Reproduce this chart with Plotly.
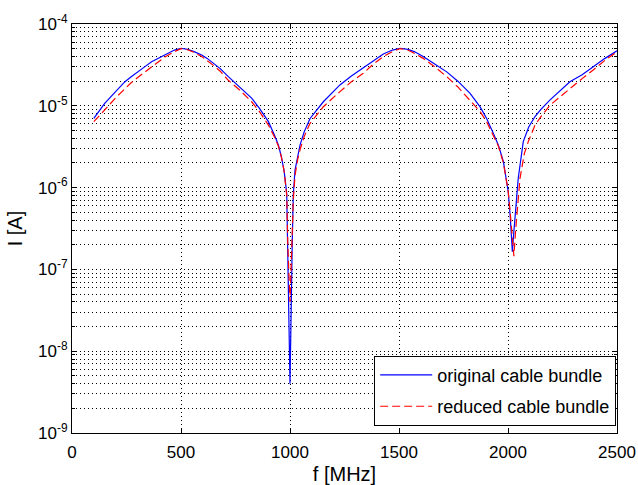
import plotly.graph_objects as go

# Frequency [MHz] and current [A] of the original cable bundle
f_orig = [100, 125, 150, 200, 243, 270, 300, 330, 365, 400, 430, 470, 500, 530, 560,
          595, 620, 650, 680, 717, 770, 824, 860,
          901, 930, 947, 960, 973, 985, 990, 1000, 1010, 1015, 1023, 1035, 1046,
          1065, 1092, 1153, 1229, 1280,
          1336, 1380, 1428, 1470, 1505, 1540, 1570, 1611, 1660, 1719, 1770, 1826,
          1872, 1902, 1933, 1956, 1979,
          2001, 2010, 2017, 2020, 2025, 2032, 2047, 2070, 2095, 2124, 2150, 2193,
          2240, 2284, 2340, 2391, 2445, 2500]
i_orig = [7.0e-6, 8.8e-6, 1.07e-5, 1.49e-5, 1.97e-5, 2.25e-5, 2.6e-5, 2.95e-5, 3.46e-5,
          3.85e-5, 4.25e-5, 4.8e-5, 5.05e-5, 4.9e-5, 4.6e-5,
          4.18e-5, 3.8e-5, 3.3e-5, 2.85e-5, 2.27e-5, 1.7e-5, 1.24e-5, 9.3e-6,
          6.4e-6, 4.3e-6, 3.3e-6, 2.4e-6, 1.6e-6, 8.5e-7, 1.9e-7, 4.0e-9, 1.9e-7,
          8.0e-7, 1.64e-6, 2.5e-6, 3.3e-6,
          4.8e-6, 7.0e-6, 1.12e-5, 1.8e-5, 2.3e-5,
          2.87e-5, 3.5e-5, 4.3e-5, 4.8e-5, 5.05e-5, 4.9e-5, 4.6e-5, 4.0e-5, 3.3e-5,
          2.6e-5, 2.0e-5, 1.42e-5,
          9.7e-6, 7.0e-6, 4.6e-6, 3.3e-6, 2.07e-6,
          8.9e-7, 4.5e-7, 2.6e-7, 1.65e-7, 2.5e-7, 4.2e-7, 1.3e-6, 3.65e-6, 5.5e-6,
          7.4e-6, 9.0e-6, 1.18e-5,
          1.55e-5, 1.97e-5, 2.4e-5, 3.0e-5, 3.8e-5, 4.7e-5]

# Frequency [MHz] and current [A] of the reduced cable bundle
f_red = [100, 125, 150, 200, 243, 270, 300, 330, 366, 400, 430, 470, 500, 530, 560,
         595, 620, 650, 680, 717, 770, 824, 860,
         901, 930, 947, 960, 973, 985, 990, 1000, 1010, 1015, 1023, 1035, 1046,
         1065, 1092, 1153, 1229, 1280,
         1336, 1380, 1428, 1470, 1505, 1540, 1570, 1611, 1660, 1719, 1770, 1826,
         1872, 1902, 1933, 1956, 1979,
         2001, 2010, 2020, 2027, 2035, 2045, 2055, 2075, 2093, 2124, 2150, 2193,
         2240, 2284, 2340, 2391, 2445, 2500]
i_red = [6.4e-6, 7.5e-6, 8.9e-6, 1.25e-5, 1.64e-5, 1.9e-5, 2.2e-5, 2.55e-5, 3.0e-5,
         3.5e-5, 4.0e-5, 4.6e-5, 5.0e-5, 4.85e-5, 4.5e-5,
         4.0e-5, 3.6e-5, 3.1e-5, 2.65e-5, 2.05e-5, 1.55e-5, 1.12e-5, 8.5e-6,
         5.8e-6, 4.1e-6, 3.2e-6, 2.4e-6, 1.6e-6, 8.0e-7, 2.0e-7, 4.0e-8, 2.0e-7,
         7.0e-7, 1.4e-6, 2.2e-6, 2.9e-6,
         4.2e-6, 6.1e-6, 9.75e-6, 1.49e-5, 1.95e-5,
         2.5e-5, 3.2e-5, 4.0e-5, 4.6e-5, 5.0e-5, 4.8e-5, 4.4e-5, 3.8e-5, 3.05e-5,
         2.27e-5, 1.7e-5, 1.18e-5,
         8.5e-6, 6.4e-6, 4.2e-6, 3.2e-6, 2.0e-6,
         9.0e-7, 5.0e-7, 2.3e-7, 1.45e-7, 3.0e-7, 6.5e-7, 1.3e-6, 2.6e-6, 3.65e-6,
         5.8e-6, 7.3e-6, 1.02e-5,
         1.3e-5, 1.64e-5, 2.15e-5, 2.74e-5, 3.6e-5, 4.55e-5]

x_ticks = [0, 500, 1000, 1500, 2000, 2500]
y_exponents = [-9, -8, -7, -6, -5, -4]

FONT = "Liberation Sans, Arial, Helvetica, sans-serif"
GRID_DASH = "1px,3px"

fig = go.Figure()
fig.add_trace(go.Scatter(
    x=f_orig, y=i_orig, mode="lines", name="original cable bundle",
    legendgroup="orig",
    line=dict(color="#0000ff", width=1.2),
))
fig.add_trace(go.Scatter(
    x=f_red, y=i_red, mode="lines", name="reduced cable bundle",
    legendgroup="red",
    line=dict(color="#ff0000", width=1.2, dash="8px,4px"),
))

minor_vals = [k * 10.0 ** e for e in y_exponents[:-1] for k in range(2, 10)]

fig.update_layout(
    width=638, height=485,
    margin=dict(l=72, r=21, t=24, b=52),
    paper_bgcolor="white", plot_bgcolor="white",
    font=dict(family=FONT, size=17, color="black"),
    showlegend=True,
    legend=dict(
        x=0.9985, xanchor="right", y=0.018, yanchor="bottom",
        bgcolor="white", bordercolor="black", borderwidth=1,
        font=dict(size=18), traceorder="grouped", tracegroupgap=5,
        itemwidth=52,
    ),
    xaxis=dict(
        range=[0, 2500], tickvals=x_ticks, ticktext=[str(v) for v in x_ticks],
        showline=True, linecolor="black", linewidth=1, mirror="ticks",
        ticks="inside", ticklen=5, tickcolor="black",
        showgrid=True, gridcolor="black", gridwidth=1, griddash=GRID_DASH,
        zeroline=False, automargin=False, ticklabelstandoff=4,
        title=dict(text="f [MHz]", standoff=15),
    ),
    yaxis=dict(
        type="log", range=[-9, -4],
        tickvals=[10.0 ** e for e in y_exponents],
        ticktext=[f"10<sup>{e}</sup>" for e in y_exponents],
        showline=True, linecolor="black", linewidth=1, mirror="ticks",
        ticks="inside", ticklen=5, tickcolor="black",
        showgrid=True, gridcolor="black", gridwidth=1, griddash=GRID_DASH,
        zeroline=False, automargin=False,
        minor=dict(tickvals=minor_vals, ticks="inside", ticklen=3,
                   tickcolor="black", showgrid=True, gridcolor="black",
                   gridwidth=1, griddash=GRID_DASH),
        title=dict(text="I [A]", standoff=10),
    ),
)

fig.write_html("out.html")
